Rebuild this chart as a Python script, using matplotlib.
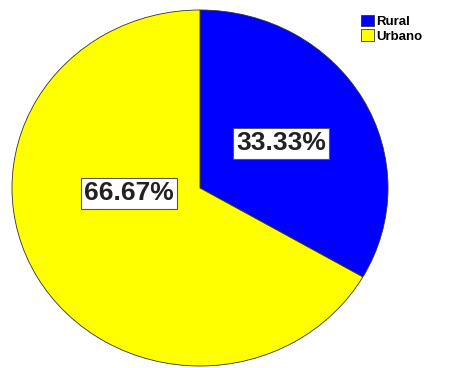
import matplotlib.pyplot as plt
from matplotlib.patches import Patch

categories = ['Rural', 'Urbano']
values = [33.33, 66.67]
colors = ['#0000ff', '#ffff00']

plt.rcParams['font.family'] = ['Liberation Sans', 'DejaVu Sans']

W, H = 453, 368
fig = plt.figure(figsize=(W / 100, H / 100), dpi=100)
# pie is a bit wider than tall in the original
ax = fig.add_axes([12 / W, 1 - 366 / H, 376 / W, 356 / H])

wedges, texts = ax.pie(values, colors=colors, startangle=90, counterclock=False,
                       wedgeprops={'edgecolor': '#333333', 'linewidth': 0.6})
ax.set_aspect('auto')
ax.set_xlim(-1.0, 1.0)
ax.set_ylim(-1.0, 1.0)

# percentage labels in boxes
label_pos = [(0.43, 0.25), (-0.38, -0.03)]
for v, (lx, ly) in zip(values, label_pos):
    ax.text(lx, ly, '%.2f%%' % v, ha='center', va='center', fontsize=19,
            fontweight='bold', color='#222222',
            bbox={'facecolor': 'white', 'edgecolor': '#555555', 'linewidth': 0.8,
                  'boxstyle': 'square,pad=0.12'})

handles = [Patch(facecolor=c, edgecolor='#333333', linewidth=0.6) for c in colors]
fig.legend(handles, categories, loc='upper left', bbox_to_anchor=(354 / W, 1 - 8 / H),
           frameon=False, handlelength=1.0, handleheight=1.0,
           handletextpad=0.2, labelspacing=0.1, borderpad=0.0,
           prop={'weight': 'bold', 'size': 9.5})

fig.savefig('out.png', dpi=100)
